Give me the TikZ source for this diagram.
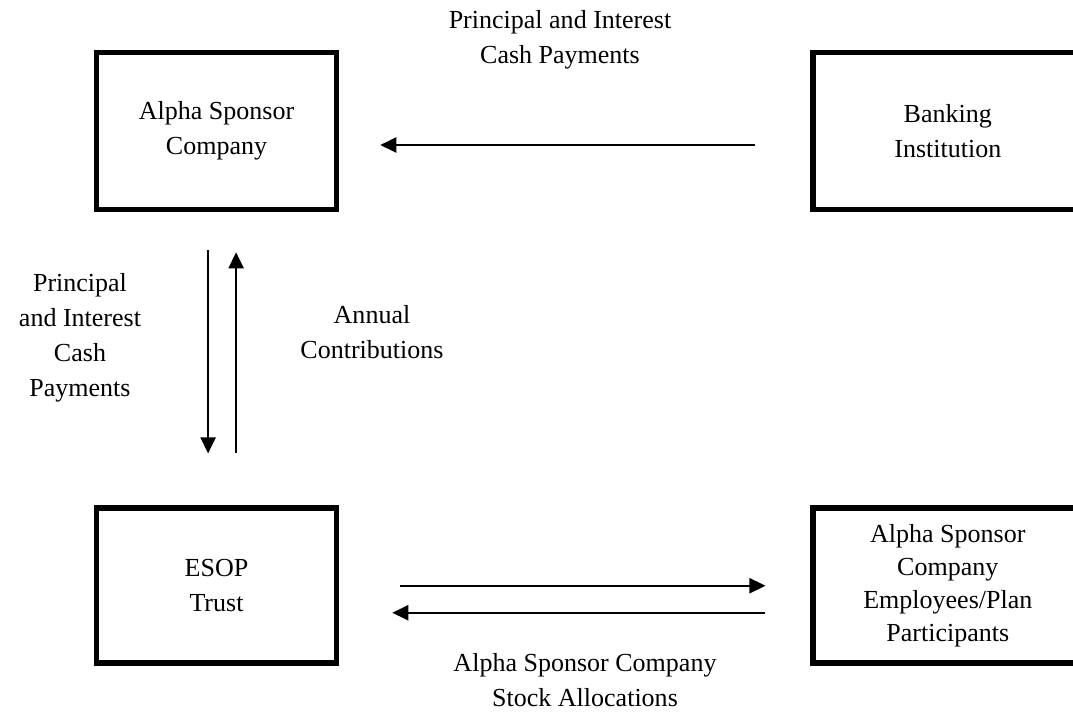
\documentclass[tikz,border=0pt]{standalone}
\usepackage{fontspec}
\setmainfont{Liberation Serif}
\usetikzlibrary{arrows.meta, positioning}

\begin{document}
\begin{tikzpicture}[x=0.025cm, y=-0.025cm,
    >={Triangle[length=0.4cm, width=0.38cm]},
    party/.style={draw, line width=4pt, minimum width=6cm,
                  align=center, font=\fontsize{18.5}{25}\selectfont},
    flow/.style={->, line width=1.3pt},
    tag/.style={align=center, font=\fontsize{18.5}{25}\selectfont}]
  \useasboundingbox (0,0) rectangle (1073,712);
  \clip (0,0) rectangle (1073,712);

  \node[party, minimum height=3.925cm] (alpha) at (216.5,131)
        {Alpha Sponsor\\Company};

  \node[party, minimum width=6.725cm, minimum height=3.925cm,
        right=11.775cm of alpha] (bank)
        {Banking\\Institution};

  \node[party, minimum height=3.875cm,
        below=7.325cm of alpha] (esop)
        {ESOP\\Trust};

  \node[party, minimum width=6.725cm, minimum height=3.875cm,
        font=\fontsize{18.5}{23.5}\selectfont,
        right=11.775cm of esop] (staff)
        {Alpha Sponsor\\Company\\Employees/Plan\\Participants};

  \node[tag] (loanpay)  at (560,40)  {Principal and Interest\\Cash Payments};
  \node[tag] (trustpay) at (80,338)  {Principal\\and Interest\\Cash\\Payments};
  \node[tag] (contrib)  at (372,332) {Annual\\Contributions};
  \node[tag] (alloc)    at (585,680) {Alpha Sponsor Company\\Stock Allocations};

  \draw[flow, shorten <=1.375cm, shorten >=1.025cm]
    ([yshift=-0.35cm]bank.west) -- ([yshift=-0.35cm]alpha.east);
  \draw[flow, shorten <=0.95cm, shorten >=1.3cm]
    ([xshift=-0.21cm]alpha.south) -- ([xshift=-0.21cm]esop.north);
  \draw[flow, shorten <=1.3cm, shorten >=1.0cm]
    ([xshift=0.49cm]esop.north) -- ([xshift=0.49cm]alpha.south);
  \draw[flow, shorten <=1.525cm, shorten >=1.125cm]
    (esop.east) -- (staff.west);
  \draw[flow, shorten <=1.125cm, shorten >=1.325cm]
    ([yshift=-0.675cm]staff.west) -- ([yshift=-0.675cm]esop.east);
\end{tikzpicture}
\end{document}
